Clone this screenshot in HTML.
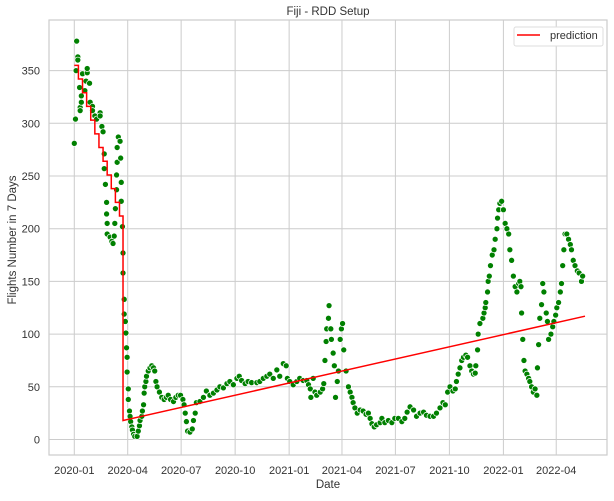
<!DOCTYPE html>
<html><head><meta charset="utf-8"><style>
body{margin:0;background:#fff;font-family:"Liberation Sans",sans-serif}
svg text{font-family:"Liberation Sans",sans-serif;fill:#333}
</style></head><body>
<svg id="chart" width="614" height="496" xmlns="http://www.w3.org/2000/svg">
<rect width="614" height="496" fill="#fff"/>
<g id="grid"></g>
<rect x="49" y="20" width="558" height="435" fill="none" stroke="#ccc" stroke-width="1.2"/>
<g id="dots"></g>
<g id="pred"></g>
<g id="ticks"></g>
<text x="328" y="15" text-anchor="middle" font-size="11.5">Fiji - RDD Setup</text>
<text x="328" y="488" text-anchor="middle" font-size="11.5">Date</text>
<text x="16" y="240" text-anchor="middle" font-size="11.5" transform="rotate(-90 16 240)">Flights Number in 7 Days</text>
<g>
<rect x="514" y="27" width="89" height="19" rx="2" fill="#fff" stroke="#ddd"/>
<line x1="517" y1="35" x2="540" y2="35" stroke="red" stroke-width="1.5"/>
<text x="550" y="39" font-size="11">prediction</text>
</g>
</svg>
<script>
const yTicks=[0,50,100,150,200,250,300,350];
const xTickDays=[0,91,182,274,366,456,547,639,731,821];
const xTickLabels=["2020-01","2020-04","2020-07","2020-10","2021-01","2021-04","2021-07","2021-10","2022-01","2022-04"];
const days=[0,2,3,4,6,6,9,10,10,12,12,14,18,20,22,22,26,27,31,31,35,38,44,44,47,49,51,51,53,55,55,56,56,61,64,66,68,69,70,72,72,73,73,75,78,79,80,80,82,83,83,85,85,87,88,89,90,90,92,92,94,95,96,98,99,101,103,107,109,111,112,115,116,118,119,120,122,123,126,129,132,135,137,139,141,145,149,153,157,160,164,169,173,177,181,185,187,189,191,193,197,201,203,206,208,214,220,225,231,237,243,248,254,260,265,271,277,281,285,291,296,302,311,316,322,328,333,339,345,350,356,361,363,367,373,379,384,390,396,399,402,403,407,410,413,419,423,425,427,429,430,433,434,437,438,441,443,445,448,450,453,455,457,459,463,467,470,473,475,478,482,487,492,497,501,504,507,511,515,521,524,529,535,541,546,552,558,563,567,572,578,583,589,595,600,606,612,617,623,628,632,636,640,645,649,651,654,657,660,663,667,670,674,677,680,683,684,687,688,691,696,698,700,701,704,705,707,709,712,715,717,720,721,723,725,728,731,734,737,740,742,745,748,751,754,757,759,761,762,764,766,768,771,774,776,779,782,785,788,789,791,793,796,798,800,804,806,808,812,815,817,820,822,825,828,830,832,834,836,839,842,845,847,850,853,857,860,864,866];
const flights=[281,304,350,378,363,360,334,315,312,320,326,347,331,340,348,352,338,320,316,312,307,304,310,307,297,292,271,257,242,225,214,205,195,192,188,186,193,205,219,251,237,263,277,287,283,267,244,226,202,177,158,133,119,112,101,87,78,64,48,38,27,22,17,12,9,5,3,3,8,13,18,22,27,33,44,50,55,60,65,68,70,68,65,55,50,45,40,38,40,42,38,36,40,42,42,38,33,25,17,8,7,10,18,25,35,36,40,46,42,44,47,50,49,53,55,52,58,60,56,53,55,54,54,55,58,60,62,58,66,60,72,70,58,55,52,55,58,56,56,52,48,40,58,45,42,45,48,53,75,93,105,115,127,105,95,82,70,40,55,65,95,105,110,85,65,50,45,40,35,30,25,28,27,24,25,20,15,12,14,16,20,16,18,16,20,20,17,20,26,31,28,22,25,26,23,22,22,25,30,35,33,45,50,46,48,55,62,68,75,78,80,78,70,65,62,63,70,85,100,110,115,120,125,130,140,150,155,165,175,180,190,200,210,218,224,226,218,205,200,195,180,170,155,145,140,148,150,145,120,95,75,65,62,58,55,50,45,48,42,68,90,115,128,148,140,120,112,95,100,107,112,118,125,130,140,148,165,180,195,195,190,185,180,170,165,160,158,150,155,155];
const predStepDays=[0,7,14,21,28,35,42,49,56,63,70,77];
const predStepVals=[355,342,329,316,303,290,277,264,251,238,225,212];
const predLineDays=[83,870];
const predLineVals=[18,117];
const NS="http://www.w3.org/2000/svg";
const X=d=>74.3+d*0.587, Y=v=>439.5-v*1.054;
function mk(tag,attrs,parent){const e=document.createElementNS(NS,tag);for(const k in attrs)e.setAttribute(k,attrs[k]);parent.appendChild(e);return e;}
const grid=document.getElementById('grid'),ticks=document.getElementById('ticks');
yTicks.forEach(v=>{
  const l=mk('line',{x1:49,x2:607,y1:Y(v),y2:Y(v),stroke:'#ccc','stroke-width':1},grid);
  
  
  const t=mk('text',{x:40,y:Y(v)+4,'text-anchor':'end','font-size':11},ticks);
  t.textContent=v;
  
  
});
xTickDays.forEach((d,i)=>{
  const l=mk('line',{x1:X(d),x2:X(d),y1:20,y2:455,stroke:'#ccc','stroke-width':1},grid);
  
  
  const t=mk('text',{x:X(d),y:474,'text-anchor':'middle','font-size':11},ticks);
  t.textContent=xTickLabels[i];
  
  
});
const dots=document.getElementById('dots');
days.forEach((d,i)=>{
  const c=mk('circle',{cx:X(d),cy:Y(flights[i]),r:3,fill:'#008000',stroke:'#fff','stroke-width':0.7},dots);
  
  
});
let p='';
predStepDays.forEach((d,i)=>{const end=i<predStepDays.length-1?predStepDays[i+1]:predLineDays[0];
  p+=(i?'L':'M')+X(d)+','+Y(predStepVals[i])+'L'+X(end)+','+Y(predStepVals[i]);});
predLineDays.forEach((d,i)=>{p+='L'+X(d)+','+Y(predLineVals[i]);});
const path=mk('path',{d:p,fill:'none',stroke:'red','stroke-width':1.5},document.getElementById('pred'));


</script>
</body></html>
